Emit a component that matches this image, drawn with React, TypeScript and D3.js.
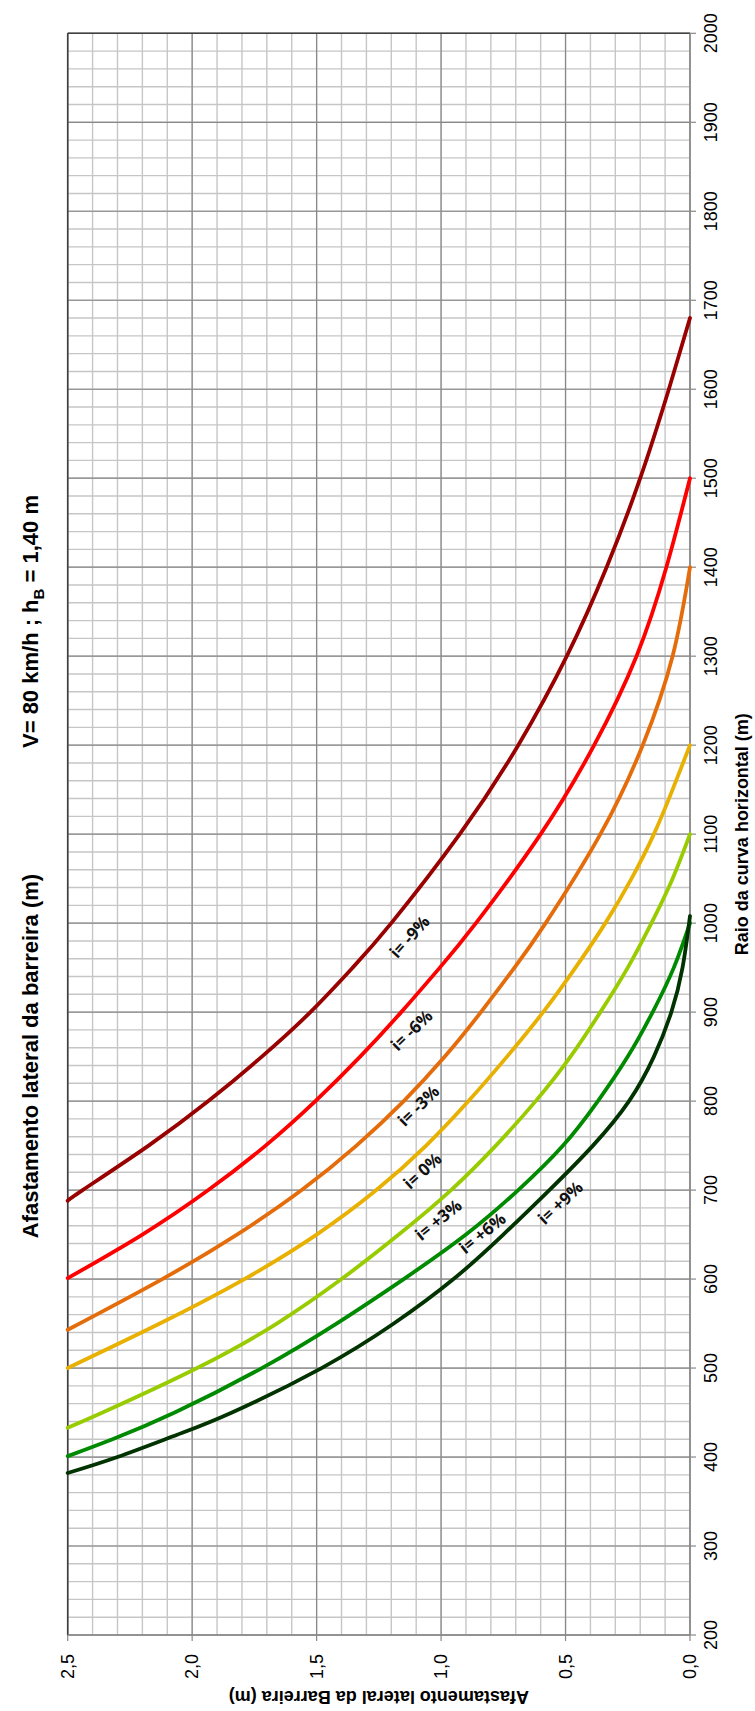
import React from "react";
import * as d3 from "d3";

// ---- data (radius R in m, lateral offset M in m) ----
const seriesNames = ["i= -9%", "i= -6%", "i= -3%", "i= 0%", "i= +3%", "i= +6%", "i= +9%"];
const seriesColors = ["#990000", "#ff0000", "#e46c0a", "#e8b000", "#99cc00", "#008a00", "#003300"];

const sMinus9: [number, number][] = [[688, 2.5], [700, 2.44], [750, 2.175], [800, 1.935], [850, 1.72], [900, 1.525], [950, 1.355], [1000, 1.2], [1100, 0.925], [1200, 0.69], [1300, 0.495], [1400, 0.335], [1500, 0.2], [1600, 0.085], [1680, 0]];
const sMinus6: [number, number][] = [[601, 2.5], [650, 2.2], [700, 1.935], [750, 1.705], [800, 1.505], [850, 1.325], [900, 1.16], [950, 1.005], [1000, 0.86], [1100, 0.6], [1200, 0.385], [1300, 0.215], [1400, 0.095], [1500, 0]];
const sMinus3: [number, number][] = [[543, 2.5], [600, 2.12], [650, 1.82], [700, 1.56], [750, 1.34], [800, 1.15], [850, 0.985], [900, 0.84], [950, 0.705], [1000, 0.58], [1100, 0.36], [1200, 0.19], [1300, 0.07], [1400, 0]];
const sZero: [number, number][] = [[500, 2.5], [550, 2.13], [600, 1.79], [650, 1.5], [700, 1.26], [750, 1.06], [800, 0.89], [850, 0.735], [900, 0.59], [950, 0.46], [1000, 0.34], [1050, 0.235], [1100, 0.145], [1150, 0.07], [1200, 0]];
const sPlus3: [number, number][] = [[433, 2.5], [450, 2.36], [500, 1.98], [550, 1.66], [600, 1.4], [650, 1.17], [700, 0.96], [750, 0.78], [800, 0.62], [850, 0.48], [900, 0.36], [950, 0.25], [1000, 0.155], [1050, 0.07], [1100, 0]];
const sPlus6: [number, number][] = [[401, 2.5], [420, 2.32], [450, 2.07], [500, 1.72], [550, 1.42], [600, 1.15], [650, 0.9], [700, 0.69], [750, 0.51], [800, 0.37], [850, 0.25], [900, 0.15], [950, 0.065], [1000, 0]];
const sPlus9: [number, number][] = [[382, 2.5], [400, 2.3], [425, 2.06], [450, 1.84], [500, 1.48], [550, 1.19], [600, 0.95], [650, 0.75], [700, 0.565], [750, 0.39], [800, 0.245], [850, 0.145], [900, 0.075], [950, 0.03], [1008, 0]];
const seriesData = [sMinus9, sMinus6, sMinus3, sZero, sPlus3, sPlus6, sPlus9];

// label anchor (R, M) and rotation angle
const labelR = [985, 880, 795, 722, 667, 652, 686];
const labelM = [1.128, 1.12, 1.092, 1.076, 1.012, 0.835, 0.522];
const labelAngle = [-48, -44, -44, -42, -39, -39, -43];

const radiusTicks = [200, 300, 400, 500, 600, 700, 800, 900, 1000, 1100, 1200, 1300, 1400, 1500, 1600, 1700, 1800, 1900, 2000];
const offsetTicks = [0, 0.5, 1.0, 1.5, 2.0, 2.5];

const titleText = "Afastamento lateral da barreira (m)";
const xTitle = "Raio da curva horizontal (m)";
const yTitle = "Afastamento lateral da Barreira (m)";

export default function App() {
  const W = 755, H = 1711;
  const left = 67.7, right = 690, top = 33.3, bottom = 1635;
  const xM = d3.scaleLinear().domain([0, 2.5]).range([right, left]);
  const yR = d3.scaleLinear().domain([200, 2000]).range([bottom, top]);

  const minorR = d3.range(200, 2000.1, 20);
  const minorM = d3.range(0, 2.5001, 0.1);

  const line = d3
    .line<[number, number]>()
    .x((d) => Math.min(right, xM(d[1])))
    .y((d) => yR(d[0]))
    .curve(d3.curveNatural);

  const font = "'Liberation Sans', Arial, sans-serif";
  const labelFont = "'Open Sans', 'Liberation Sans', sans-serif";

  return (
    <svg width={W} height={H} style={{ position: "absolute", left: 0, top: 0, background: "#fff" }} fontFamily={font}>
      <rect x={0} y={0} width={W} height={H} fill="#fff" />
      {/* minor grid */}
      {minorR.map((r, i) => (
        <line key={"mr" + i} x1={left} x2={right} y1={yR(r)} y2={yR(r)} stroke="#c6c6c6" strokeWidth={1.4} />
      ))}
      {minorM.map((m, i) => (
        <line key={"mm" + i} x1={xM(m)} x2={xM(m)} y1={top} y2={bottom} stroke="#c6c6c6" strokeWidth={1.4} />
      ))}
      {/* major grid */}
      {radiusTicks.map((r) => (
        <line key={"Mr" + r} x1={left} x2={right} y1={yR(r)} y2={yR(r)} stroke="#888" strokeWidth={1.2} />
      ))}
      {offsetTicks.map((m) => (
        <line key={"Mm" + m} x1={xM(m)} x2={xM(m)} y1={top} y2={bottom} stroke="#888" strokeWidth={1.2} />
      ))}
      {/* border */}
      <line x1={left} x2={left} y1={top} y2={bottom} stroke="#404040" strokeWidth={1.6} />
      <line x1={left} x2={right} y1={top} y2={top} stroke="#404040" strokeWidth={1.6} />
      <line x1={right} x2={right} y1={top} y2={bottom} stroke="#888" strokeWidth={1.4} />
      <line x1={left} x2={right} y1={bottom} y2={bottom} stroke="#888" strokeWidth={1.4} />
      {/* ticks */}
      {radiusTicks.map((r) => (
        <line key={"tr" + r} x1={right} x2={right + 6} y1={yR(r)} y2={yR(r)} stroke="#888" strokeWidth={1.2} />
      ))}
      {offsetTicks.map((m) => (
        <line key={"tm" + m} x1={xM(m)} x2={xM(m)} y1={bottom} y2={bottom + 6} stroke="#888" strokeWidth={1.2} />
      ))}
      {/* curves */}
      {seriesData.map((s, i) => (
        <path key={"s" + i} d={line(s) || ""} fill="none" stroke={seriesColors[i]} strokeWidth={3.8} strokeLinecap="round" strokeLinejoin="round" />
      ))}
      {/* curve labels */}
      {seriesNames.map((n, i) => (
        <text
          key={"l" + i}
          transform={`translate(${xM(labelM[i])},${yR(labelR[i])}) rotate(${labelAngle[i]})`}
          textAnchor="middle"
          dominantBaseline="central"
          fontFamily={labelFont}
          fontWeight="bold"
          fontSize={17}
          fill="#111"
        >
          {n}
        </text>
      ))}
      {/* right tick labels (radius) */}
      {radiusTicks.map((r) => (
        <text key={"rl" + r} transform={`translate(711,${yR(r)}) rotate(-90)`} textAnchor="middle" dominantBaseline="central" fontSize={18} fill="#000">
          {r}
        </text>
      ))}
      {/* bottom tick labels (offset) */}
      {offsetTicks.map((m) => (
        <text key={"ml" + m} transform={`translate(${xM(m)},1654) rotate(-90)`} textAnchor="end" dominantBaseline="central" fontSize={18} fill="#000">
          {m.toFixed(1).replace(".", ",")}
        </text>
      ))}
      {/* axis titles */}
      <text transform={`translate(742,${(top + bottom) / 2}) rotate(-90)`} textAnchor="middle" dominantBaseline="central" fontSize={18} fontWeight="bold" fill="#000">
        {xTitle}
      </text>
      <text transform={`translate(${(left + right) / 2},1697) rotate(180)`} textAnchor="middle" dominantBaseline="central" fontSize={18} fontWeight="bold" fill="#000">
        {yTitle}
      </text>
      {/* chart titles */}
      <text transform={`translate(30,1056) rotate(-90)`} textAnchor="middle" dominantBaseline="central" fontSize={22} fontWeight="bold" fill="#000">
        {titleText}
      </text>
      <text transform={`translate(30,748) rotate(-90)`} textAnchor="start" dominantBaseline="central" fontSize={22} fontWeight="bold" fill="#000">
        V= 80 km/h ;  h<tspan baselineShift="sub" fontSize={15}>B</tspan> = 1,40 m
      </text>
    </svg>
  );
}
